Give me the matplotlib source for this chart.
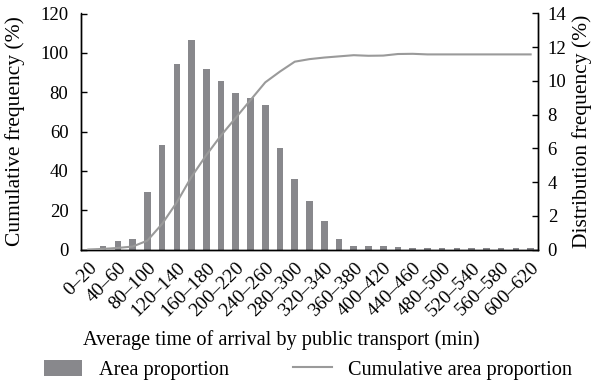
import matplotlib
matplotlib.use("Agg")
import matplotlib.pyplot as plt
from matplotlib.patches import Patch
from matplotlib.lines import Line2D

plt.rcParams["font.family"] = ["Liberation Serif", "DejaVu Serif"]

# Travel-time classes (minutes)
categories = [f"{a}\u2013{a + 20}" for a in range(0, 620, 20)]

# Share of area in each class (%), right axis
area_share = [0.0, 0.2, 0.5, 0.65, 3.4, 6.2, 11.0, 12.4, 10.7, 10.0,
              9.3, 9.0, 8.6, 6.0, 4.2, 2.9, 1.7, 0.65, 0.18, 0.18,
              0.2, 0.12, 0.1, 0.06, 0.06, 0.06, 0.06, 0.06, 0.06, 0.06, 0.06]

# Cumulative share of area (%), left axis
cumulative_share = [0.0, 0.3, 0.8, 1.5, 4.5, 13.0, 24.0, 37.0, 48.0, 58.0,
                    67.0, 76.0, 85.0, 90.5, 95.5, 96.8, 97.6, 98.2, 98.8, 98.5,
                    98.6, 99.4, 99.5, 99.2, 99.2, 99.2, 99.2, 99.2, 99.2, 99.2, 99.2]

bar_color = "#88888c"
line_color = "#9a9a9a"

W, H = 591, 386
fig = plt.figure(figsize=(W / 100, H / 100), dpi=100)
ax = fig.add_axes([81 / W, 1 - 249.5 / H, (538 - 81) / W, (249.5 - 13.5) / H])
ax2 = ax.twinx()

x = list(range(len(categories)))

# Distribution bars on the right axis
ax2.bar(x, area_share, width=0.45, color=bar_color, zorder=2)
# Cumulative curve on the left axis
ax.plot(x, cumulative_share, color=line_color, lw=1.5, zorder=3)
ax.set_zorder(ax2.get_zorder() + 1)
ax.patch.set_visible(False)

ax.set_xlim(-0.5, len(categories) - 0.5)
ax.set_ylim(0, 120)
ax2.set_ylim(0, 14)
ax.set_yticks(range(0, 121, 20))
ax2.set_yticks(range(0, 15, 2))

ax.set_xticks(x[::2])
ax.set_xticklabels(categories[::2], rotation=45, ha="right", va="top",
                   rotation_mode="anchor", fontsize=14)
ax.tick_params(axis="x", length=0, pad=7)
ax.tick_params(axis="y", direction="in", length=4, width=1, labelsize=13.5, pad=9)
ax2.tick_params(axis="y", direction="in", length=4, width=1, labelsize=13.5, pad=7)

for a in (ax, ax2):
    a.spines["top"].set_visible(False)
    for s in ("left", "right", "bottom"):
        a.spines[s].set_linewidth(1.0)
        a.spines[s].set_color("black")

fig.text(15 / W, 1 - 131 / H, "Cumulative frequency (%)", fontsize=15.5,
         rotation=90, ha="center", va="center")
fig.text(582 / W, 1 - 131 / H, "Distribution frequency (%)", fontsize=15.5,
         rotation=90, ha="center", va="center")
fig.text(281 / W, 1 - 340 / H, "Average time of arrival by public transport (min)",
         fontsize=14.6, ha="center", va="center")

handles = [Patch(facecolor=bar_color, edgecolor="none"),
           Line2D([0], [0], color=line_color, lw=1.5)]
fig.legend(handles, ["Area proportion", "Cumulative area proportion"],
           loc="center", bbox_to_anchor=(308 / W, 1 - 370 / H), ncol=2,
           frameon=False, fontsize=14.6, handlelength=1.9, handleheight=0.8,
           columnspacing=3.2, handletextpad=0.8, borderpad=0, borderaxespad=0)

fig.savefig("out.png", dpi=100)
